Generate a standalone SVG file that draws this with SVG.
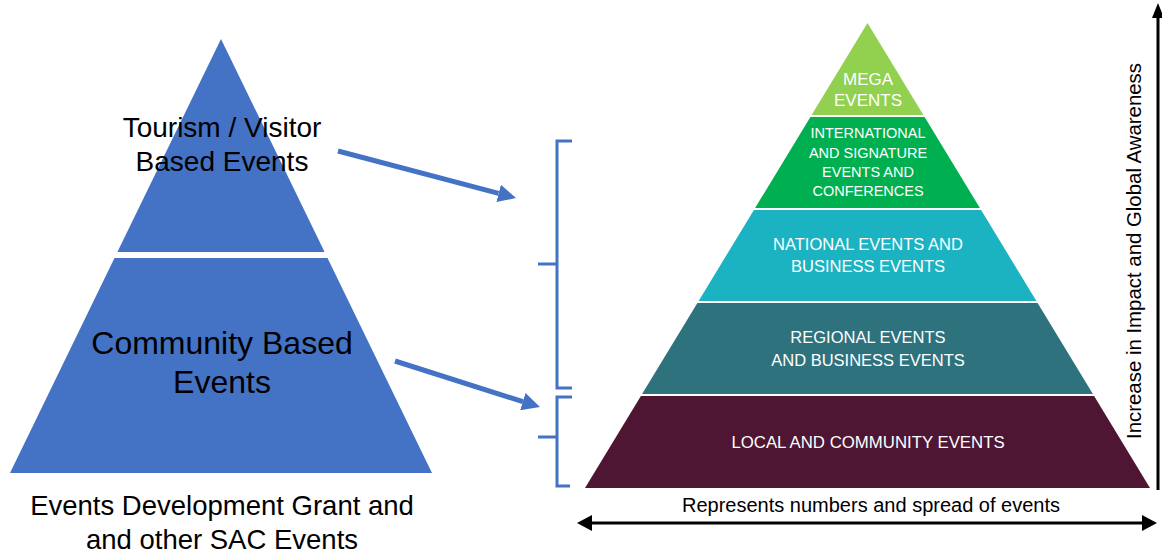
<svg xmlns="http://www.w3.org/2000/svg" width="1162" height="555" viewBox="0 0 1162 555">
  <style>
    .t { font-family: "Liberation Sans", Arial, sans-serif; text-anchor: middle; }
    .blk { fill: #000000; }
    .wht { fill: #ffffff; }
    .blue { fill: #4472C4; }
    .brk { fill: none; stroke: #4472C4; stroke-width: 3; }
    .barrow { stroke: #4472C4; stroke-width: 5; fill: none; }
    .axis { stroke: #000000; stroke-width: 3; fill: none; }
  </style>
  <defs>
    <marker id="blueHead" viewBox="0 -9 18 18" markerWidth="18" markerHeight="18" refX="0" refY="0" orient="auto" markerUnits="userSpaceOnUse">
      <path d="M0,-9 L18,0 L0,9 z" fill="#4472C4"/>
    </marker>
    <marker id="blackHead" viewBox="0 -8 15 16" markerWidth="15" markerHeight="16" refX="0" refY="0" orient="auto-start-reverse" markerUnits="userSpaceOnUse">
      <path d="M0,-8 L15,0 L0,8 z" fill="#000000"/>
    </marker>
    <marker id="blackHeadV" viewBox="0 -6 15 12" markerWidth="15" markerHeight="12" refX="0" refY="0" orient="auto" markerUnits="userSpaceOnUse">
      <path d="M0,-6 L15,0 L0,6 z" fill="#000000"/>
    </marker>
  </defs>

  <rect width="1162" height="555" fill="#ffffff"/>

  <!-- Left pyramid -->
  <g id="left-top">
    <polygon class="blue" points="221,39 324.6,252 117.4,252"/>
    <text class="t blk" x="222" y="137" font-size="28">Tourism / Visitor</text>
    <text class="t blk" x="222" y="171" font-size="28">Based Events</text>
  </g>
  <g id="left-bottom">
    <polygon class="blue" points="114.5,258 327.5,258 432,473 10,473"/>
    <text class="t blk" x="222" y="354" font-size="32">Community Based</text>
    <text class="t blk" x="222" y="393" font-size="32">Events</text>
  </g>
  <g id="left-caption">
    <text class="t blk" x="222" y="515" font-size="27.5">Events Development Grant and</text>
    <text class="t blk" x="222" y="549" font-size="27.5">and other SAC Events</text>
  </g>

  <!-- Right pyramid -->
  <g id="mega">
    <polygon fill="#92D050" points="867.5,23 923.4,115 811.6,115"/>
    <text class="t wht" x="868" y="85" font-size="17">MEGA</text>
    <text class="t wht" x="868" y="106" font-size="17">EVENTS</text>
  </g>
  <g id="international">
    <polygon fill="#00B050" points="810.4,117 924.6,117 979.9,208 755.1,208"/>
    <text class="t wht" x="868" y="138" font-size="14.5">INTERNATIONAL</text>
    <text class="t wht" x="868" y="158" font-size="14.5">AND SIGNATURE</text>
    <text class="t wht" x="868" y="177" font-size="14.5">EVENTS AND</text>
    <text class="t wht" x="868" y="196" font-size="14.5">CONFERENCES</text>
  </g>
  <g id="national">
    <polygon fill="#1BB3C2" points="753.9,210 981.1,210 1036.4,301 698.6,301"/>
    <text class="t wht" x="868" y="250" font-size="16.5">NATIONAL EVENTS AND</text>
    <text class="t wht" x="868" y="272" font-size="16.5">BUSINESS EVENTS</text>
  </g>
  <g id="regional">
    <polygon fill="#2E727D" points="697.4,303 1037.6,303 1092.9,394 642.1,394"/>
    <text class="t wht" x="868" y="343" font-size="16.5">REGIONAL EVENTS</text>
    <text class="t wht" x="868" y="366" font-size="16.5">AND BUSINESS EVENTS</text>
  </g>
  <g id="local">
    <polygon fill="#4E1633" points="640.9,396 1094.1,396 1150,488 585,488"/>
    <text class="t wht" x="868" y="448" font-size="16.8">LOCAL AND COMMUNITY EVENTS</text>
  </g>

  <!-- Axis labels -->
  <g id="axis-labels">
    <text class="t blk" x="871" y="512" font-size="20">Represents numbers and spread of events</text>
    <text class="t blk" x="0" y="0" font-size="20.4" transform="translate(1141,251) rotate(-90)">Increase in Impact and Global Awareness</text>
  </g>

  <!-- Connectors -->
  <g id="connectors">
    <line class="barrow" x1="338" y1="151" x2="498.6" y2="193.4" marker-end="url(#blueHead)"/>
    <line class="barrow" x1="395" y1="361" x2="522.8" y2="401.6" marker-end="url(#blueHead)"/>
    <path class="brk" d="M572,141 H557 V388 H572 M538,264 H557"/>
    <path class="brk" d="M572,397 H557 V486 H570 M538,437 H557"/>
    <line class="axis" x1="592" y1="523" x2="1142" y2="523" marker-start="url(#blackHead)" marker-end="url(#blackHead)"/>
    <line class="axis" x1="1158" y1="490" x2="1158" y2="18" marker-end="url(#blackHeadV)"/>
  </g>
</svg>
